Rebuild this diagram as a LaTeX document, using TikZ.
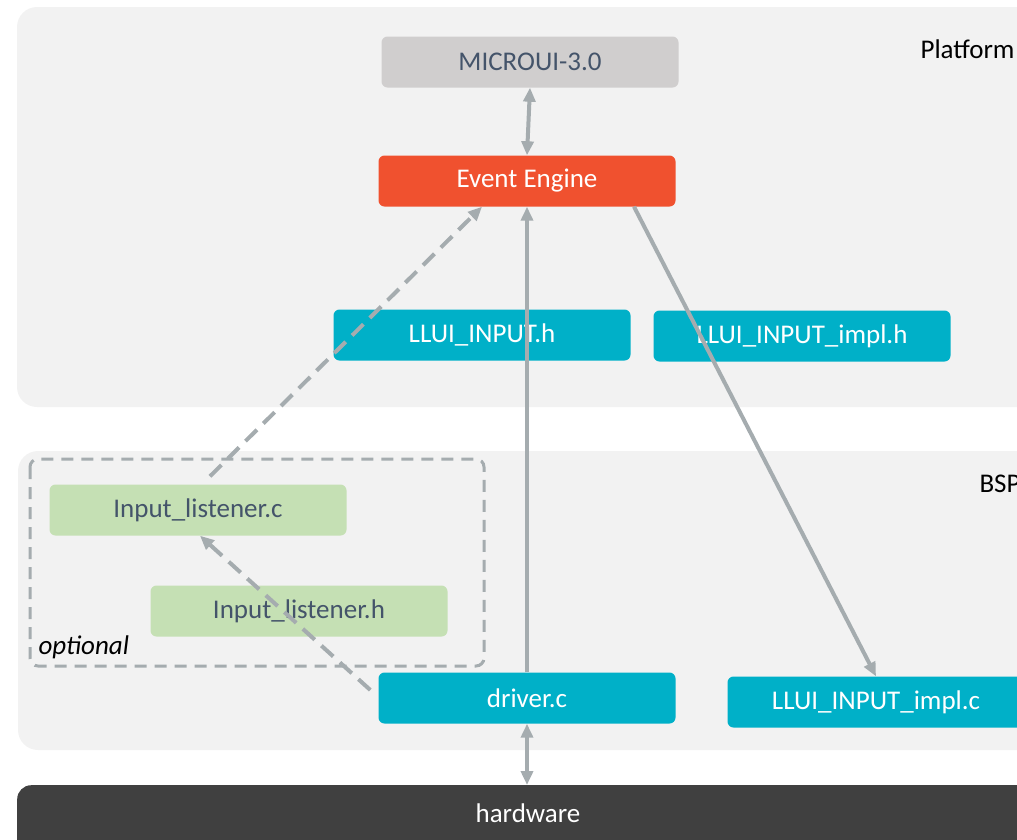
\documentclass[tikz,border=0pt]{standalone}
\usepackage{fontspec}
\setmainfont{Carlito}
\usetikzlibrary{arrows.meta}
\definecolor{panelgray}{HTML}{F2F2F2}
\definecolor{uigray}{HTML}{D0CECE}
\definecolor{enginered}{HTML}{F0512F}
\definecolor{llcyan}{HTML}{00B0C8}
\definecolor{lsgreen}{HTML}{C5E0B4}
\definecolor{hwdark}{HTML}{404040}
\definecolor{slate}{HTML}{44546A}
\definecolor{arrowgray}{HTML}{A5ACAF}
\begin{document}
\begin{tikzpicture}[x=1pt,y=-1pt,
		every node/.style={font=\fontsize{27}{32}\selectfont},
		filebox/.style={rounded corners=6pt, minimum width=297pt, minimum height=51pt, inner sep=0pt},
		link/.style={arrowgray, line width=4pt, -{Triangle[length=14pt,width=12pt]}},
		twoway/.style={link, {Triangle[length=14pt,width=12pt]}-{Triangle[length=14pt,width=12pt]}},
		dashlink/.style={link, dash pattern=on 16pt off 9pt}]
			\useasboundingbox (0,0) rectangle (1017,839);
			\clip (0,0) rectangle (1017,839);
			% layers
			\fill[panelgray, rounded corners=20pt] (17,7) rectangle (1060,407);
			\fill[panelgray, rounded corners=20pt] (18,451) rectangle (1060,750);
			\node[anchor=west] (platform) at (917,49) {Platform};
			\node[anchor=west] (bsp) at (976,484) {BSP};
			\node[fill=hwdark, rounded corners=14pt, minimum width=1046pt, minimum height=75pt, inner sep=0pt, anchor=north west] (hw) at (17,785) {};
			\node[white] (hwtext) at (528,813) {hardware};
			% optional part
			\draw[arrowgray, line width=3pt, dash pattern=on 12pt off 8pt, rounded corners=8pt] (30,459) rectangle (484,666);
			\node[anchor=west, font=\fontsize{27}{32}\selectfont\itshape] (opt) at (35,647) {optional};
			% files
			\node[filebox, fill=uigray, text=slate] (microui) at (530,62) {MICROUI-3.0};
			\node[filebox, fill=enginered, text=white] (engine) at (527,181) {Event Engine};
			\node[filebox, fill=llcyan, text=white] (llh) at (482,335) {LLUI\_INPUT.h};
			\node[filebox, fill=llcyan, text=white] (llimplh) at (802,336) {LLUI\_INPUT\_impl.h};
			\node[filebox, fill=lsgreen, text=slate] (lstc) at (198,510) {Input\_listener.c};
			\node[filebox, fill=lsgreen, text=slate] (lsth) at (299,611) {Input\_listener.h};
			\node[filebox, fill=llcyan, text=white] (driver) at (527,698) {driver.c};
			\node[filebox, fill=llcyan, text=white] (llimplc) at (876,702) {LLUI\_INPUT\_impl.c};
			% links
			\draw[twoway] (microui.south) -- (engine.north);
			\draw[link] (driver.north) -- (engine.south);
			\draw[link] ([xshift=107pt]engine.south) -- (llimplc.north);
			\draw[dashlink] ([xshift=12pt,yshift=8pt]lstc.north) -- ([xshift=-45pt]engine.south);
			\draw[dashlink] ([xshift=-8pt,yshift=8pt]driver.west) -- ([xshift=2pt]lstc.south);
			\draw[twoway] (driver.south) -- (hw.north -| driver.south);
		\end{tikzpicture}
\end{document}
